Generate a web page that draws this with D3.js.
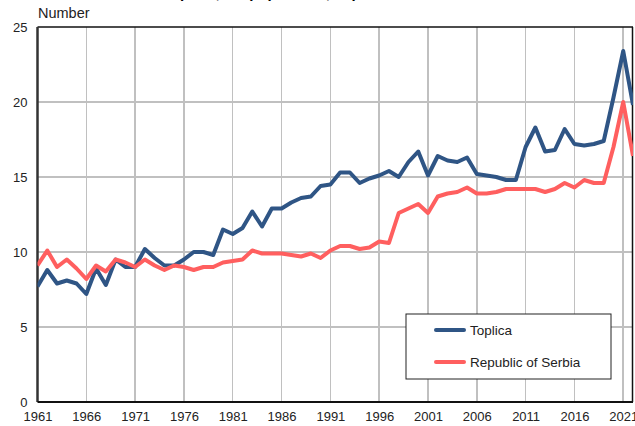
<!DOCTYPE html>
<html>
<head>
<meta charset="utf-8">
<script src="https://cdn.jsdelivr.net/npm/d3@7"></script>
<style>
  body { margin: 0; background: #fff; }
  svg { display: block; font-family: "Liberation Sans", Arial, sans-serif; }
  .grid line { stroke: #c0c0c0; stroke-width: 1.5; shape-rendering: crispEdges; }
  .axis path, .axis line { display: none; }
  .axis text { font-size: 13px; fill: #222; }
</style>
</head>
<body>
<script>
// data
var years = d3.range(1961, 2023);
var toplica = [7.7, 8.8, 7.9, 8.1, 7.9, 7.2, 8.9, 7.8, 9.5, 9.0,
               9.0, 10.2, 9.6, 9.1, 9.1, 9.5, 10.0, 10.0, 9.8, 11.5,
               11.2, 11.6, 12.7, 11.7, 12.9, 12.9, 13.3, 13.6, 13.7, 14.4,
               14.5, 15.3, 15.3, 14.6, 14.9, 15.1, 15.4, 15.0, 16.0, 16.7,
               15.1, 16.4, 16.1, 16.0, 16.3, 15.2, 15.1, 15.0, 14.8, 14.8,
               17.0, 18.3, 16.7, 16.8, 18.2, 17.2, 17.1, 17.2, 17.4, 20.3,
               23.4, 19.8];
var serbia = [9.1, 10.1, 9.0, 9.5, 8.9, 8.2, 9.1, 8.7, 9.5, 9.3,
              9.0, 9.5, 9.1, 8.8, 9.1, 9.0, 8.8, 9.0, 9.0, 9.3,
              9.4, 9.5, 10.1, 9.9, 9.9, 9.9, 9.8, 9.7, 9.9, 9.6,
              10.1, 10.4, 10.4, 10.2, 10.3, 10.7, 10.6, 12.6, 12.9, 13.2,
              12.6, 13.7, 13.9, 14.0, 14.3, 13.9, 13.9, 14.0, 14.2, 14.2,
              14.2, 14.2, 14.0, 14.2, 14.6, 14.3, 14.8, 14.6, 14.6, 17.0,
              20.0, 16.4];
var seriesNames = ["Toplica", "Republic of Serbia"];
var seriesColors = ["#2f5585", "#ff5f5f"];
var xTicks = d3.range(1961, 2022, 5);
var yTicks = [0, 5, 10, 15, 20, 25];

var W = 635, H = 426;
var plot = {left: 37.5, right: 633, top: 27, bottom: 402};

var svg = d3.select("body").append("svg")
    .attr("width", W).attr("height", H);

var x = d3.scaleLinear().domain([1961, 2022]).range([plot.left, plot.right]);
var y = d3.scaleLinear().domain([0, 25]).range([plot.bottom, plot.top]);

// title, mostly cut off above the frame
svg.append("text")
    .attr("x", 100).attr("y", -2)
    .style("font-size", "15px").style("font-weight", "bold")
    .text("Live births per 1,000 population, Toplica");

svg.append("text")
    .attr("x", 38).attr("y", 18)
    .style("font-size", "14.5px").style("fill", "#222")
    .text("Number");

// gridlines
var grid = svg.append("g").attr("class", "grid");
grid.selectAll(".gx").data(xTicks.slice(1)).enter().append("line")
    .attr("x1", function(d) { return x(d); }).attr("x2", function(d) { return x(d); })
    .attr("y1", plot.top).attr("y2", plot.bottom);
grid.selectAll(".gy").data(yTicks.slice(1, -1)).enter().append("line")
    .attr("x1", plot.left).attr("x2", plot.right)
    .attr("y1", function(d) { return y(d); }).attr("y2", function(d) { return y(d); });

// frame
svg.append("line").attr("x1", plot.left).attr("x2", plot.right).attr("y1", plot.top).attr("y2", plot.top)
    .attr("stroke", "#111").attr("stroke-width", 1.5);
svg.append("line").attr("x1", plot.right - 0.5).attr("x2", plot.right - 0.5).attr("y1", plot.top).attr("y2", plot.bottom)
    .attr("stroke", "#111").attr("stroke-width", 1.5);
svg.append("line").attr("x1", plot.left).attr("x2", plot.left).attr("y1", plot.top).attr("y2", plot.bottom)
    .attr("stroke", "#333").attr("stroke-width", 2.5);
svg.append("line").attr("x1", plot.left).attr("x2", plot.right).attr("y1", plot.bottom).attr("y2", plot.bottom)
    .attr("stroke", "#111").attr("stroke-width", 2);

// axes
svg.append("g").attr("class", "axis")
    .attr("transform", "translate(0," + (plot.bottom + 3) + ")")
    .call(d3.axisBottom(x).tickValues(xTicks).tickFormat(d3.format("d")).tickSize(0).tickPadding(7));
svg.append("g").attr("class", "axis")
    .attr("transform", "translate(" + (plot.left - 10) + ",0)")
    .call(d3.axisLeft(y).tickValues(yTicks).tickSize(0).tickPadding(0));

// lines
var line = d3.line()
    .x(function(d, i) { return x(years[i]); })
    .y(function(d) { return y(d); });

svg.append("clipPath").attr("id", "clip").append("rect")
    .attr("x", plot.left).attr("y", 0).attr("width", plot.right - plot.left).attr("height", H);

[toplica, serbia].forEach(function(s, k) {
  svg.append("path").datum(s)
      .attr("clip-path", "url(#clip)")
      .attr("fill", "none")
      .attr("stroke", seriesColors[k])
      .attr("stroke-width", 4)
      .attr("stroke-linejoin", "round")
      .attr("d", line);
});

// legend
var lg = svg.append("g").attr("transform", "translate(406,314)");
lg.append("rect").attr("width", 205).attr("height", 65)
    .attr("fill", "#fff").attr("stroke", "#222").attr("stroke-width", 1);
seriesNames.forEach(function(n, i) {
  var yy = 16 + i * 32;
  lg.append("line").attr("x1", 30).attr("x2", 58).attr("y1", yy).attr("y2", yy)
      .attr("stroke", seriesColors[i]).attr("stroke-width", 4).attr("stroke-linecap", "round");
  lg.append("text").attr("x", 64).attr("y", yy + 5)
      .style("font-size", "13.5px").style("fill", "#222").text(n);
});
</script>
</body>
</html>
